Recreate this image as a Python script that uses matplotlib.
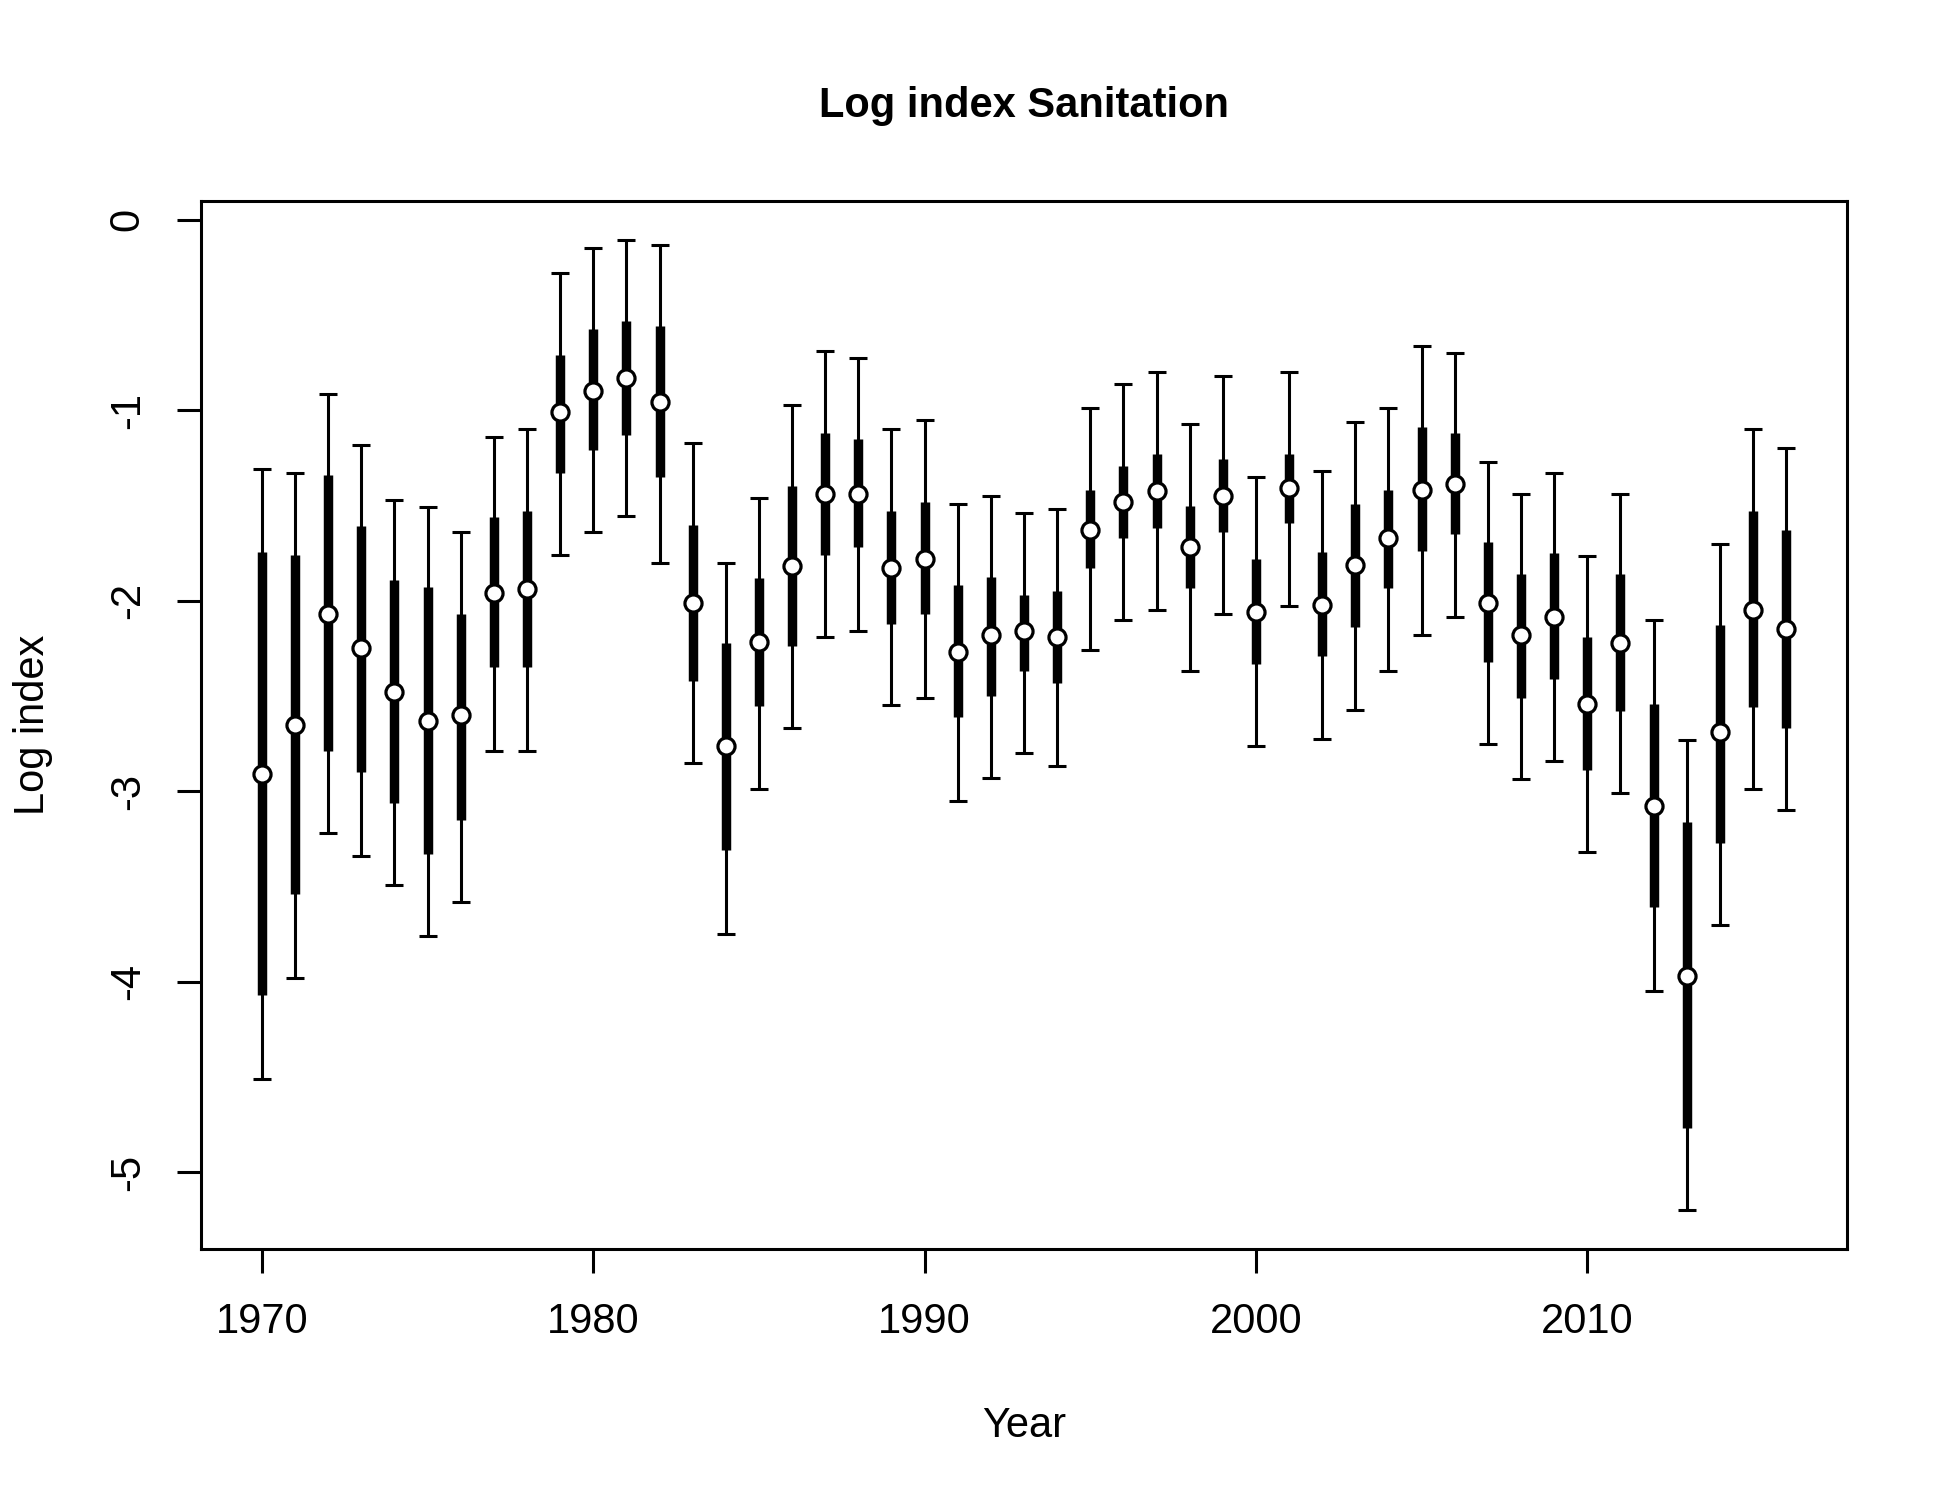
import matplotlib
matplotlib.use("Agg")
import matplotlib.pyplot as plt
import numpy as np

years = list(range(1970, 2017))
median = [-2.91, -2.65, -2.07, -2.25, -2.48, -2.63, -2.60, -1.96, -1.94, -1.01,
          -0.90, -0.83, -0.955, -2.01, -2.765, -2.215, -1.82, -1.44, -1.44, -1.83,
          -1.78, -2.27, -2.18, -2.16, -2.19, -1.63, -1.48, -1.425, -1.72, -1.45,
          -2.06, -1.41, -2.02, -1.81, -1.67, -1.42, -1.385, -2.01, -2.18, -2.085,
          -2.54, -2.22, -3.08, -3.97, -2.69, -2.05, -2.15]
inner_hi = [-1.745, -1.76, -1.34, -1.61, -1.89, -1.93, -2.07, -1.56, -1.53, -0.71,
            -0.575, -0.53, -0.555, -1.60, -2.22, -1.88, -1.40, -1.12, -1.15, -1.53,
            -1.48, -1.915, -1.875, -1.97, -1.95, -1.42, -1.29, -1.23, -1.50, -1.255,
            -1.78, -1.23, -1.745, -1.49, -1.42, -1.09, -1.12, -1.69, -1.86, -1.75,
            -2.19, -1.86, -2.54, -3.16, -2.13, -1.53, -1.63]
inner_lo = [-4.07, -3.54, -2.79, -2.90, -3.06, -3.33, -3.15, -2.35, -2.35, -1.33,
            -1.21, -1.13, -1.35, -2.42, -3.31, -2.555, -2.24, -1.76, -1.72, -2.12,
            -2.07, -2.61, -2.50, -2.37, -2.43, -1.83, -1.67, -1.62, -1.935, -1.64,
            -2.33, -1.59, -2.29, -2.14, -1.935, -1.74, -1.65, -2.32, -2.51, -2.41,
            -2.89, -2.58, -3.61, -4.77, -3.27, -2.56, -2.67]
outer_hi = [-1.31, -1.33, -0.915, -1.18, -1.47, -1.51, -1.64, -1.14, -1.10, -0.28,
            -0.15, -0.105, -0.13, -1.17, -1.80, -1.46, -0.97, -0.69, -0.725, -1.10,
            -1.05, -1.49, -1.45, -1.54, -1.52, -0.99, -0.86, -0.80, -1.07, -0.82,
            -1.35, -0.80, -1.32, -1.06, -0.99, -0.66, -0.70, -1.27, -1.44, -1.33,
            -1.765, -1.44, -2.10, -2.73, -1.70, -1.10, -1.20]
outer_lo = [-4.51, -3.98, -3.22, -3.34, -3.49, -3.76, -3.58, -2.79, -2.79, -1.76,
            -1.64, -1.555, -1.80, -2.85, -3.75, -2.99, -2.67, -2.19, -2.16, -2.55,
            -2.51, -3.05, -2.93, -2.80, -2.87, -2.26, -2.10, -2.05, -2.37, -2.07,
            -2.765, -2.03, -2.725, -2.575, -2.37, -2.18, -2.085, -2.75, -2.935, -2.84,
            -3.32, -3.01, -4.05, -5.20, -3.70, -2.99, -3.10]
x_ticks = [1970, 1980, 1990, 2000, 2010]
y_ticks = [0, -1, -2, -3, -4, -5]

plt.rcParams['font.family'] = ['Liberation Sans', 'DejaVu Sans']

W, H = 1950, 1500
fig = plt.figure(figsize=(W / 100, H / 100), dpi=100)
L, R, T, B = 201, 1847, 201, 1249
ax = fig.add_axes([L / W, 1 - B / H, (R - L) / W, (B - T) / H])

x = np.array(years, dtype=float)
med = np.array(median)
ohi = np.array(outer_hi); olo = np.array(outer_lo)
ihi = np.array(inner_hi); ilo = np.array(inner_lo)

ax.errorbar(x, med, yerr=[med - olo, ohi - med], fmt='none', ecolor='black',
            elinewidth=2.2, capsize=6.6, capthick=2.2, zorder=2)
ax.vlines(x, ilo, ihi, colors='black', linewidth=6.8, zorder=3)
ax.plot(x, med, linestyle='none', marker='o', markersize=12.3,
        markerfacecolor='white', markeredgecolor='black', markeredgewidth=2.3, zorder=4)

span_x = max(years) - min(years)
ax.set_xlim(min(years) - 0.04 * span_x, max(years) + 0.04 * span_x)
ylo, yhi = min(outer_lo), max(outer_hi)
ax.set_ylim(ylo - 0.04 * (yhi - ylo), yhi + 0.04 * (yhi - ylo))

ax.set_xticks(x_ticks)
ax.set_xticklabels([str(v) for v in x_ticks])
ax.set_yticks(y_ticks)
ax.set_yticklabels([str(v) for v in y_ticks], rotation=90, va='center')
ax.tick_params(axis='both', length=17.3, width=2.2, labelsize=30, direction='out')
ax.tick_params(axis='x', pad=21)
ax.tick_params(axis='y', pad=21)
for s in ax.spines.values():
    s.set_linewidth(2.2)

cx = (L + R) / 2 / W
fig.text(cx, 1 - 1437 / H, 'Year', fontsize=30, ha='center', va='baseline')
fig.text(33 / W, 1 - ((T + B) / 2) / H, 'Log index', fontsize=30, rotation=90,
         ha='center', va='center')
fig.text(cx, 1 - 117 / H, 'Log index Sanitation', fontsize=30, fontweight='bold',
         ha='center', va='baseline')

fig.savefig('out.png', dpi=100)
